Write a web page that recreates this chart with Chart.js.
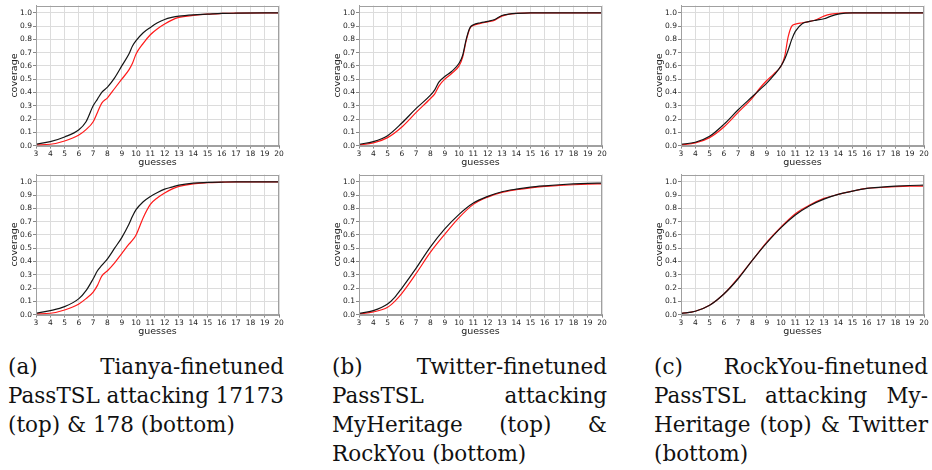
<!DOCTYPE html>
<html>
<head>
<meta charset="utf-8">
<script src="https://cdn.jsdelivr.net/npm/chart.js@4/dist/chart.umd.min.js"></script>
<style>
  html, body { margin:0; padding:0; background:#fff; width:932px; height:470px; overflow:hidden; }
  canvas { position:absolute; }
  .cap { position:absolute; font-family:"DejaVu Serif", serif; font-size:21.5px; line-height:29px; color:#111; }
  .ln { display:flex; justify-content:space-between; white-space:nowrap; }
  .ln.last { justify-content:flex-start; }
</style>
</head>
<body>
<canvas id="aTop" width="287" height="170" style="left:0px;top:0px"></canvas>
<canvas id="bTop" width="287" height="170" style="left:323px;top:0px"></canvas>
<canvas id="cTop" width="287" height="170" style="left:645px;top:0px"></canvas>
<canvas id="aBot" width="287" height="170" style="left:0px;top:169px"></canvas>
<canvas id="bBot" width="287" height="170" style="left:323px;top:169px"></canvas>
<canvas id="cBot" width="287" height="170" style="left:645px;top:169px"></canvas>

<div class="cap" style="left:8px;top:352px;width:276px">
  <div class="ln"><span>(a)</span><span>Tianya-finetuned</span></div>
  <div class="ln"><span>PassTSL</span><span>attacking</span><span>17173</span></div>
  <div class="ln last"><span>(top) &amp; 178 (bottom)</span></div>
</div>
<div class="cap" style="left:332px;top:352px;width:275px">
  <div class="ln"><span>(b)</span><span>Twitter-finetuned</span></div>
  <div class="ln"><span>PassTSL</span><span>attacking</span></div>
  <div class="ln"><span>MyHeritage</span><span>(top)</span><span>&amp;</span></div>
  <div class="ln last"><span>RockYou (bottom)</span></div>
</div>
<div class="cap" style="left:654px;top:352px;width:274px">
  <div class="ln"><span>(c)</span><span>RockYou-finetuned</span></div>
  <div class="ln"><span>PassTSL</span><span>attacking</span><span>My-</span></div>
  <div class="ln"><span>Heritage</span><span>(top)</span><span>&amp;</span><span>Twitter</span></div>
  <div class="ln last"><span>(bottom)</span></div>
</div>

<script>
// ---- data ----
const xTicksMin = 3, xTicksMax = 20;
const yTickValues = [0, 0.1, 0.2, 0.3, 0.4, 0.5, 0.6, 0.7, 0.8, 0.9, 1.0];
const yTickLabels = ['0.0','0.1','0.2','0.3','0.4','0.5','0.6','0.7','0.8','0.9','1.0'];

// (a) top: Tianya-finetuned attacking 17173
const aTopX     = [3,4,5,6,6.5,7,7.3,7.6,8,8.5,9,9.5,9.75,10,10.5,11,11.5,12,12.5,13,14,15,16,17,20];
const aTopBlack = [0.01,0.03,0.065,0.12,0.18,0.30,0.35,0.40,0.44,0.51,0.60,0.69,0.75,0.79,0.85,0.89,0.925,0.95,0.965,0.975,0.985,0.99,0.995,0.997,1.0];
const aTopRed   = [0.005,0.01,0.035,0.08,0.12,0.18,0.25,0.32,0.36,0.43,0.50,0.57,0.62,0.69,0.77,0.835,0.88,0.915,0.945,0.965,0.98,0.99,0.995,0.998,1.0];

// (a) bottom: Tianya-finetuned attacking 178
const aBotX     = [3,4,5,6,6.5,7,7.3,7.6,8,8.5,9,9.5,9.75,10,10.5,11,11.5,12,12.5,13,14,15,16,17,20];
const aBotBlack = [0.01,0.03,0.06,0.12,0.18,0.27,0.33,0.37,0.42,0.50,0.58,0.68,0.74,0.79,0.85,0.89,0.92,0.945,0.96,0.975,0.99,0.995,0.998,1.0,1.0];
const aBotRed   = [0.005,0.01,0.035,0.08,0.12,0.17,0.22,0.29,0.33,0.39,0.46,0.53,0.56,0.60,0.73,0.83,0.88,0.915,0.945,0.965,0.985,0.993,0.997,1.0,1.0];

// (b) top: Twitter-finetuned attacking MyHeritage
const bTopX     = [3,4,5,6,7,8,8.3,8.6,9,9.5,10,10.25,10.5,10.75,11,11.5,12,12.5,13,13.5,14,15,20];
const bTopBlack = [0.01,0.03,0.075,0.17,0.28,0.38,0.42,0.48,0.52,0.56,0.62,0.68,0.80,0.885,0.91,0.925,0.935,0.95,0.98,0.99,0.995,1.0,1.0];
const bTopRed   = [0.005,0.02,0.06,0.14,0.25,0.355,0.39,0.45,0.50,0.545,0.60,0.665,0.79,0.88,0.905,0.92,0.932,0.945,0.975,0.99,0.995,1.0,1.0];

// (b) bottom: Twitter-finetuned attacking RockYou
const bBotX     = [3,4,5,5.5,6,7,8,9,10,11,12,13,14,15,16,17,18,19,20];
const bBotBlack = [0.01,0.03,0.08,0.13,0.20,0.35,0.51,0.645,0.755,0.84,0.89,0.925,0.945,0.96,0.97,0.978,0.984,0.988,0.99];
const bBotRed   = [0.005,0.02,0.055,0.10,0.16,0.31,0.47,0.605,0.73,0.83,0.885,0.92,0.94,0.955,0.965,0.972,0.978,0.982,0.985];

// (c) top: RockYou-finetuned attacking MyHeritage
const cTopX     = [3,4,5,6,7,8,8.5,9,9.5,10,10.25,10.5,10.75,11,11.5,12,12.5,13,13.5,14,14.5,15,20];
const cTopBlack = [0.01,0.025,0.07,0.16,0.27,0.37,0.42,0.47,0.53,0.60,0.65,0.72,0.80,0.86,0.92,0.935,0.945,0.955,0.975,0.99,0.997,1.0,1.0];
const cTopRed   = [0.005,0.02,0.06,0.14,0.25,0.36,0.43,0.49,0.54,0.60,0.67,0.82,0.90,0.915,0.925,0.935,0.95,0.975,0.99,0.995,1.0,1.0,1.0];

// (c) bottom: RockYou-finetuned attacking Twitter
const cBotX     = [3,4,5,6,7,8,9,10,11,12,13,14,15,16,17,18,19,20];
const cBotBlack = [0.008,0.025,0.07,0.155,0.27,0.41,0.54,0.655,0.75,0.82,0.87,0.905,0.93,0.95,0.96,0.967,0.972,0.975];
const cBotRed   = [0.008,0.025,0.07,0.155,0.275,0.41,0.545,0.66,0.76,0.825,0.875,0.905,0.93,0.95,0.957,0.963,0.967,0.968];

// ---- drawing ----
const frame = {
  id: 'frame',
  afterDatasetsDraw(chart) {
    const a = chart.chartArea, c = chart.ctx;
    c.save();
    c.strokeStyle = '#a0a0a0';
    c.lineWidth = 1;
    c.strokeRect(Math.round(a.left) + 0.5, Math.round(a.top) + 0.5,
                 Math.round(a.right - a.left) - 1, Math.round(a.bottom - a.top));
    c.restore();
  }
};

function makeChart(id, xs, black, red) {
  const tickFont = { family: 'DejaVu Sans', size: 7.5 };
  const titleFont = { family: 'DejaVu Sans', size: 9.5 };
  new Chart(document.getElementById(id), {
    type: 'line',
    data: {
      datasets: [
        { data: xs.map((x, i) => ({ x: x, y: black[i] })), borderColor: '#151515', borderWidth: 1.2 },
        { data: xs.map((x, i) => ({ x: x, y: red[i] })), borderColor: '#ff1a1a', borderWidth: 1.2 }
      ]
    },
    options: {
      responsive: false, animation: false, devicePixelRatio: 1,
      layout: { padding: { left: 9, right: 8, top: 5, bottom: 2 } },
      plugins: { legend: { display: false }, tooltip: { enabled: false } },
      elements: { point: { radius: 0 }, line: { cubicInterpolationMode: 'monotone' } },
      scales: {
        x: {
          type: 'linear', min: xTicksMin, max: xTicksMax,
          ticks: { stepSize: 1, autoSkip: false, maxRotation: 0, font: tickFont, color: '#222', padding: 1 },
          grid: { color: '#dcdcdc', tickLength: 3, tickColor: '#888' },
          border: { color: '#a0a0a0' },
          title: { display: true, text: 'guesses', font: titleFont, color: '#222', padding: 0 },
          afterFit(s) { s.height = 22.4; }
        },
        y: {
          min: 0, max: 1.055,
          ticks: { font: tickFont, color: '#222', padding: 1, autoSkip: false,
                   callback: (v, i) => yTickLabels[i] },
          afterBuildTicks(s) { s.ticks = yTickValues.map(v => ({ value: v })); },
          grid: { color: '#dcdcdc', tickLength: 3, tickColor: '#888' },
          border: { color: '#a0a0a0' },
          title: { display: true, text: 'coverage', font: titleFont, color: '#222', padding: 0 },
          afterFit(s) { s.width = 27; }
        }
      }
    },
    plugins: [frame]
  });
}

makeChart('aTop', aTopX, aTopBlack, aTopRed);
makeChart('bTop', bTopX, bTopBlack, bTopRed);
makeChart('cTop', cTopX, cTopBlack, cTopRed);
makeChart('aBot', aBotX, aBotBlack, aBotRed);
makeChart('bBot', bBotX, bBotBlack, bBotRed);
makeChart('cBot', cBotX, cBotBlack, cBotRed);
</script>
</body>
</html>
